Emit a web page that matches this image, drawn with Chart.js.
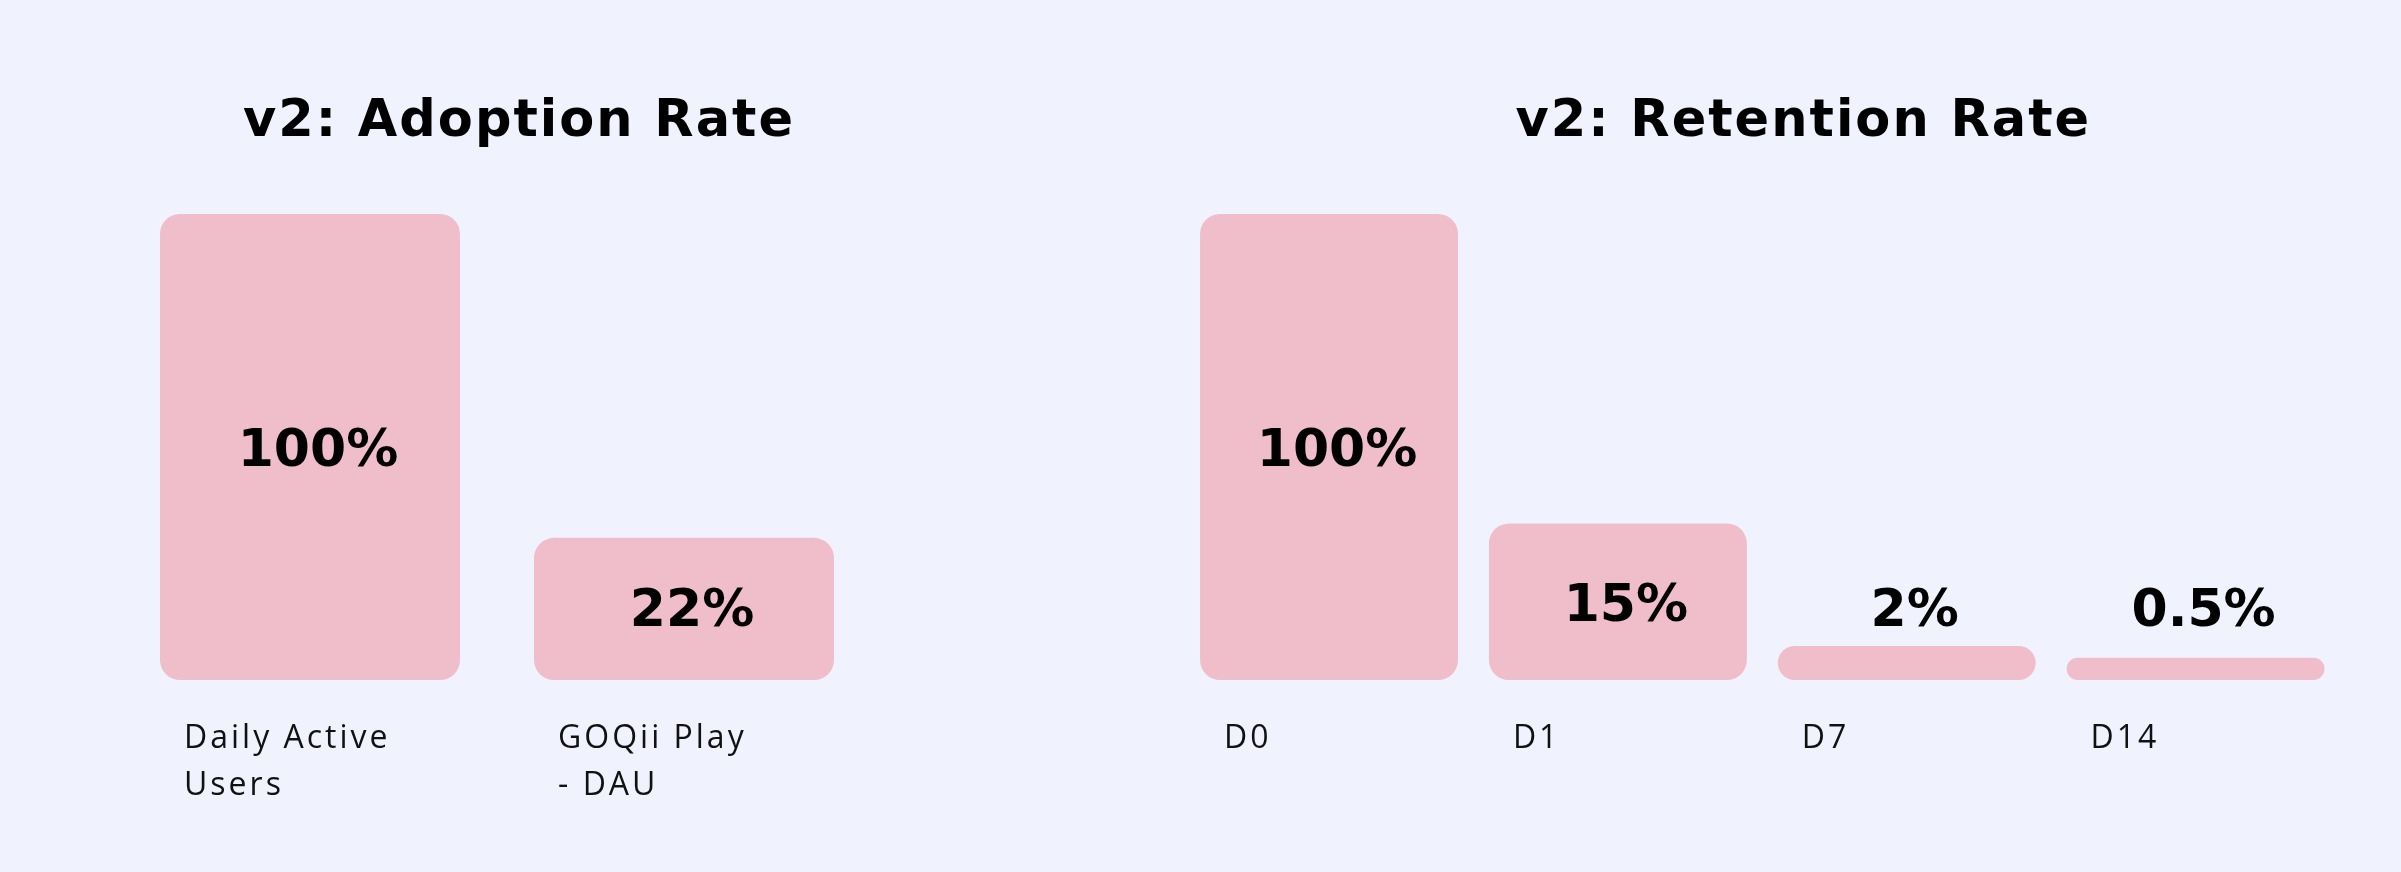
<!DOCTYPE html>
<html>
<head>
<meta charset="utf-8">
<script src="https://cdn.jsdelivr.net/npm/chart.js@4.4.1/dist/chart.umd.min.js"></script>
<style>
    html, body { margin: 0; padding: 0; background: #f0f3fe; }
    body { width: 2401px; height: 872px; position: relative; overflow: hidden; }
    .chart-box { position: absolute; top: 0; height: 872px; }
    #adoption-box { left: 0; width: 1000px; }
    #retention-box { left: 1100px; width: 1301px; }
</style>
</head>
<body>
<div class="chart-box" id="adoption-box"><canvas id="adoptionChart"></canvas></div>
<div class="chart-box" id="retention-box"><canvas id="retentionChart"></canvas></div>
<script>
// Adoption chart
const adoptionLabels = [['Daily Active', 'Users'], ['GOQii Play', '- DAU']];
const adoptionText = ['100%', '22%'];
// bar heights as drawn in the picture (the picture does not scale them to the printed values)
const adoptionHeights = [100, 30.5];

// Retention chart
const retentionLabels = [['D0'], ['D1'], ['D7'], ['D14']];
const retentionText = ['100%', '15%', '2%', '0.5%'];
const retentionHeights = [100, 33.6, 7.3, 4.8];

const BAR_COLOR = '#f0bdca';

// Draws the title, the value on each bar and the category labels under the bars
const barText = {
    id: 'barText',
    afterDatasetsDraw(chart, args, opts) {
        const { ctx, chartArea, scales } = chart;
        const bars = chart.getDatasetMeta(0).data;
        const floorY = scales.y.getPixelForValue(opts.floorValue);

        ctx.save();
        ctx.fillStyle = '#000';

        // Title
        ctx.font = "bold 51px 'DejaVu Sans'";
        ctx.letterSpacing = '2px';
        ctx.textAlign = 'center';
        ctx.textBaseline = 'alphabetic';
        ctx.fillText(opts.title, (chartArea.left + chartArea.right) / 2 + opts.titleShift, chartArea.top - 78);

        // Values
        ctx.font = "bold 52px 'DejaVu Sans'";
        ctx.letterSpacing = '0px';
        bars.forEach((bar, i) => {
            const mid = Math.min((bar.y + bar.base) / 2, floorY);
            ctx.fillText(opts.values[i], bar.x + 8, mid + 19);
        });

        // Category labels
        ctx.font = "400 32px 'Open Sans'";
        ctx.letterSpacing = '3px';
        ctx.textAlign = 'left';
        ctx.fillStyle = '#111';
        bars.forEach((bar, i) => {
            const lines = chart.data.labels[i];
            lines.forEach((line, j) => {
                ctx.fillText(line, bar.x - bar.width / 2 + 24, chartArea.bottom + 68 + j * 47);
            });
        });

        ctx.restore();
    }
};

function makeChart(id, labels, heights, values, title, titleShift, barPct, padding) {
    const ctx = document.getElementById(id).getContext('2d');
    return new Chart(ctx, {
        type: 'bar',
        data: {
            labels: labels,
            datasets: [{
                data: heights,
                backgroundColor: BAR_COLOR,
                borderRadius: 20,
                borderSkipped: false,
                categoryPercentage: 1,
                barPercentage: barPct
            }]
        },
        options: {
            responsive: true,
            maintainAspectRatio: false,
            animation: false,
            layout: { padding: padding },
            scales: {
                x: { display: false },
                y: { display: false, min: 0, max: 100 }
            },
            plugins: {
                legend: { display: false },
                tooltip: { enabled: false },
                barText: {
                    title: title,
                    titleShift: titleShift,
                    values: values,
                    floorValue: 15.7
                }
            }
        },
        plugins: [barText]
    });
}

makeChart('adoptionChart', adoptionLabels, adoptionHeights, adoptionText,
    'v2: Adoption Rate', 22, 0.802,
    { left: 123, right: 129, top: 214, bottom: 192 });

makeChart('retentionChart', retentionLabels, retentionHeights, retentionText,
    'v2: Retention Rate', 41, 0.893,
    { left: 84.6, right: 61, top: 214, bottom: 192 });
</script>
</body>
</html>
